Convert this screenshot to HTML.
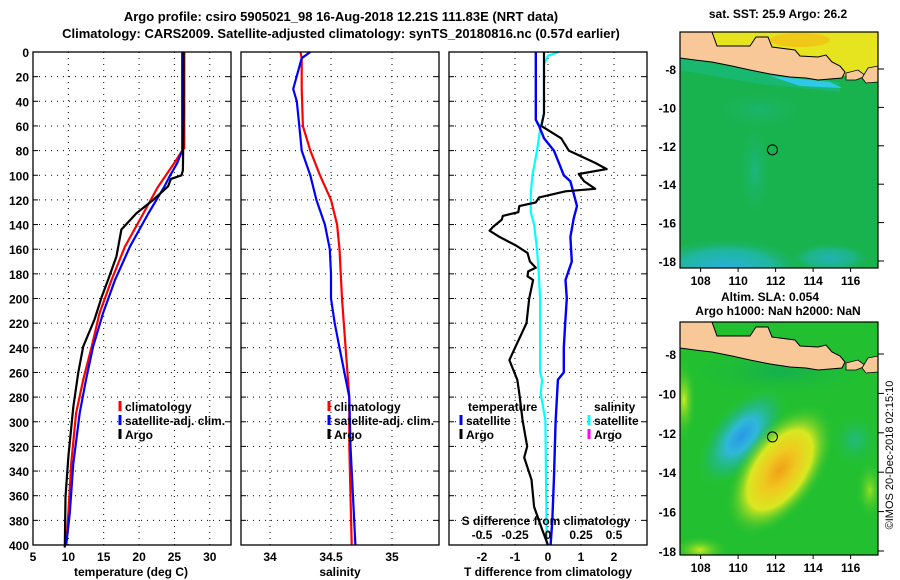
<!DOCTYPE html>
<html><head><meta charset="utf-8">
<style>
html,body{margin:0;padding:0;background:#fff;}
svg{display:block;font-family:"Liberation Sans",Arial,sans-serif;font-weight:bold;}
text{font-size:12px;fill:#000;}
</style></head>
<body>
<svg id="chart" width="900" height="580" viewBox="0 0 900 580" xmlns="http://www.w3.org/2000/svg">
<defs>
<radialGradient id="blueblob">
<stop offset="0" stop-color="#2898e8"/><stop offset="0.35" stop-color="#30b8d8"/><stop offset="0.7" stop-color="#20b888" stop-opacity="0.6"/><stop offset="1" stop-color="#22c040" stop-opacity="0"/></radialGradient>
<radialGradient id="yelblob">
<stop offset="0" stop-color="#f0a018"/><stop offset="0.3" stop-color="#f0c820"/><stop offset="0.6" stop-color="#d8e820"/><stop offset="1" stop-color="#30c030" stop-opacity="0"/></radialGradient>
<radialGradient id="cyanblob">
<stop offset="0" stop-color="#28b0e0"/><stop offset="0.6" stop-color="#22b8c0" stop-opacity="0.7"/><stop offset="1" stop-color="#20b860" stop-opacity="0"/></radialGradient>
<radialGradient id="tealblob">
<stop offset="0" stop-color="#20b8a0"/><stop offset="1" stop-color="#20b860" stop-opacity="0"/></radialGradient>
<radialGradient id="ygblob">
<stop offset="0" stop-color="#c8ec20"/><stop offset="1" stop-color="#30c030" stop-opacity="0"/></radialGradient>
<radialGradient id="dgblob">
<stop offset="0" stop-color="#14b050"/><stop offset="1" stop-color="#22c030" stop-opacity="0"/></radialGradient>
<clipPath id="clipTop"><rect x="680" y="32" width="198" height="236"/></clipPath>
<clipPath id="clipBot"><rect x="680" y="322" width="198" height="233"/></clipPath>
</defs>
<text x="341" y="21" text-anchor="middle" style="font-size:13px">Argo profile: csiro 5905021_98 16-Aug-2018 12.21S 111.83E (NRT data)</text>
<text x="341" y="38" text-anchor="middle" style="font-size:13px">Climatology: CARS2009. Satellite-adjusted climatology: synTS_20180816.nc (0.57d earlier)</text>
<g id="panels"></g>
<g id="maps"></g>
<text transform="translate(893,455) rotate(-90)" text-anchor="middle" style="font-size:11px;font-weight:normal">©IMOS 20-Dec-2018 02:15:10</text>
</svg>
<script>
// ---------- data ----------
const depthTicks=[0,20,40,60,80,100,120,140,160,180,200,220,240,260,280,300,320,340,360,380,400];
const tempTicks=[5,10,15,20,25,30];
const salTicks=[34,34.5,35];
const salTickLabels=["34","34.5","35"];
const tdiffTicks=[-2,-1,0,1,2];
const sdiffTicks=[-0.5,-0.25,0,0.25,0.5];
const sdiffTickLabels=["-0.5","-0.25","0","0.25","0.5"];

const tArgoDepth=[0,50,96,100,103,109,120,131,144,166,185,199,217,239,260,288,328,361,402];
const tArgoVal=[26.3,26.3,26.2,26.0,24.5,24.1,22.0,19.6,17.5,16.8,15.6,14.7,13.7,12.1,11.4,10.7,10.0,9.6,9.5];
const tClimDepth=[0,78,80,90,100,110,131,158,185,212,239,266,293,334,374,400];
const tClimVal=[26.4,26.4,26.1,25.0,23.8,22.6,20.6,18.0,16.1,14.4,13.3,12.1,11.1,10.4,10.0,9.7];
const tSatDepth=[0,78,80,90,100,110,131,158,185,212,239,266,293,334,374,400];
const tSatVal=[26.1,26.1,26.1,25.4,24.4,23.5,21.3,18.7,16.6,14.9,13.5,12.5,11.6,10.7,10.2,9.7];

const sClimDepth=[0,5,30,60,80,100,120,140,160,200,240,280,320,400];
const sClimVal=[34.25,34.26,34.26,34.27,34.33,34.41,34.50,34.55,34.57,34.59,34.62,34.65,34.65,34.67];
const sSatDepth=[0,5,30,40,60,80,100,120,140,160,180,200,220,240,260,280,320,400];
const sSatVal=[34.33,34.26,34.19,34.22,34.24,34.26,34.33,34.38,34.45,34.49,34.50,34.50,34.53,34.57,34.61,34.65,34.66,34.70];

const dTArgoDepth=[0,50,60,70,80,90,95,99,105,111,113,118,122,125,130,133,136,142,145,150,157,163,170,175,178,182,185,200,220,240,250,266,277,299,320,329,347,369,388,398,400];
const dTArgoVal=[-0.12,-0.12,-0.2,0.4,0.63,1.43,1.78,0.93,1.1,1.43,0.53,-0.27,-0.37,-0.87,-0.9,-1.37,-1.4,-1.67,-1.77,-1.47,-0.97,-0.62,-0.55,-0.37,-0.6,-0.62,-0.45,-0.57,-0.65,-1.0,-1.17,-0.93,-0.87,-0.77,-0.63,-0.72,-0.5,-0.42,-0.17,-0.03,0.0];
const dTSatDepth=[0,50,55,60,70,80,90,100,105,115,125,135,150,170,185,200,220,240,260,266,300,347,380,400];
const dTSatVal=[-0.37,-0.37,-0.37,-0.27,-0.12,0.18,0.33,0.48,0.68,0.78,0.88,0.78,0.68,0.72,0.53,0.57,0.52,0.48,0.48,0.3,0.23,0.18,0.13,0.08];
const dSSatDepth=[0,3,10,50,60,80,100,115,130,140,160,180,200,260,266,277,299,347,400];
const dSSatVal=[0.083,0.0,-0.03,-0.03,-0.055,-0.083,-0.118,-0.13,-0.13,-0.105,-0.083,-0.07,-0.06,-0.06,-0.045,-0.055,-0.02,-0.015,-0.01];

const lonTicks=[108,110,112,114,116];
const latTicks=[-8,-10,-12,-14,-16,-18];

// ---------- axis functions ----------
const Y0=52,Y1=545;
const dy=d=>Y0+d*(Y1-Y0)/400;
const p1x=t=>33+(t-5)*198/28;
const p2x=s=>270+(s-34)*122;
const p3x=t=>449+(t+3)*33;
const p3s=s=>p3x(s*4);
const NS="http://www.w3.org/2000/svg";
const G=document.getElementById('panels');
function mk(tag,attrs,parent){const e=document.createElementNS(NS,tag);for(const k in attrs)e.setAttribute(k,attrs[k]);(parent||G).appendChild(e);return e;}
function txt(x,y,s,anchor,parent,size){const e=mk('text',{x:x,y:y,'text-anchor':anchor||'middle'},parent);if(size)e.style.fontSize=size;e.textContent=s;return e;}
function poly(xs,ds,fx,color,w,name,parent){
  const pts=xs.map((v,i)=>fx(v).toFixed(1)+','+dy(ds[i]).toFixed(1)).join(' ');
  const e=mk('polyline',{points:pts,fill:'none',stroke:color,'stroke-width':w,'stroke-linejoin':'round'},parent);
  
  
  return e;
}
function panel(name){
  const g=mk('g',{});
  
  
  return g;
}
function frame(x0,g){
  const r=mk('rect',{x:x0,y:Y0,width:198,height:Y1-Y0,fill:'none',stroke:'#000','stroke-width':1.3},g);
  
  
}
function hgrid(x0,g){
  depthTicks.forEach(d=>{
    if(d===0||d===400)return;
    const l=mk('line',{x1:x0,x2:x0+198,y1:dy(d),y2:dy(d),stroke:'#000','stroke-width':1,'stroke-dasharray':'1,5'},g);
    
    
    mk('line',{x1:x0,x2:x0+5,y1:dy(d),y2:dy(d),stroke:'#000'},g);
    mk('line',{x1:x0+193,x2:x0+198,y1:dy(d),y2:dy(d),stroke:'#000'},g);
  });
}
function vgrid(xs,fx,g){
  xs.forEach(v=>{
    const l=mk('line',{x1:fx(v),x2:fx(v),y1:Y0,y2:Y1,stroke:'#000','stroke-width':1,'stroke-dasharray':'1,5'},g);
    
    
  });
}
function legendItem(g,mx,y,color,label,name){
  const m=mk('line',{x1:mx,x2:mx,y1:y-10,y2:y,stroke:color,'stroke-width':3},g);
  
  
  const t=txt(mx+5,y,label,'start',g);
  
  
}

// depth labels
depthTicks.forEach(d=>{const t=txt(29,dy(d)+5,String(d),'end');
  
  });

// Panel 1 temperature
let g1=panel('temperature-panel');
vgrid(tempTicks.filter(v=>v>5),p1x,g1);hgrid(33,g1);
tempTicks.forEach(v=>{const t=txt(p1x(v),561,String(v),'middle',g1);
  
  });
poly(tClimVal,tClimDepth,p1x,'#f00',2.2,'temperature-climatology-line',g1);
poly(tSatVal,tSatDepth,p1x,'#00f',2.2,'temperature-satellite-line',g1);
poly(tArgoVal,tArgoDepth,p1x,'#000',2.2,'temperature-argo-line',g1);
frame(33,g1);
legendItem(g1,120,411,'#f00','climatology','legend-climatology');
legendItem(g1,120,425,'#00f','satellite-adj. clim.','legend-satellite');
legendItem(g1,120,439,'#000','Argo','legend-argo');
let xl=txt(131,576,'temperature (deg C)','middle',g1);



// Panel 2 salinity
let g2=panel('salinity-panel');
vgrid(salTicks,p2x,g2);hgrid(241,g2);
salTicks.forEach((v,i)=>{const t=txt(p2x(v),561,salTickLabels[i],'middle',g2);
  
  });
poly(sClimVal,sClimDepth,p2x,'#f00',2.2,'salinity-climatology-line',g2);
poly(sSatVal,sSatDepth,p2x,'#00f',2.2,'salinity-satellite-line',g2);
frame(241,g2);
legendItem(g2,329,411,'#f00','climatology','legend2-climatology');
legendItem(g2,329,425,'#00f','satellite-adj. clim.','legend2-satellite');
legendItem(g2,329,439,'#000','Argo','legend2-argo');
xl=txt(340,576,'salinity','middle',g2);



// Panel 3 differences
let g3=panel('difference-panel');
vgrid(tdiffTicks,p3x,g3);hgrid(449,g3);
tdiffTicks.forEach(v=>{const t=txt(p3x(v),561,String(v),'middle',g3);
  
  });
poly(dSSatVal,dSSatDepth,p3s,'#0ff',2.2,'sdiff-satellite-line',g3);
poly(dTSatVal,dTSatDepth,p3x,'#00f',2.4,'tdiff-satellite-line',g3);
poly(dTArgoVal,dTArgoDepth,p3x,'#000',2.2,'tdiff-argo-line',g3);
frame(449,g3);
let t3=txt(468,411,'temperature','start',g3);
legendItem(g3,461,425,'#00f','satellite','legend3-t-satellite');
legendItem(g3,461,439,'#000','Argo','legend3-t-argo');
t3=txt(594,411,'salinity','start',g3);
legendItem(g3,589,425,'#0ff','satellite','legend3-s-satellite');
legendItem(g3,589,439,'#f0f','Argo','legend3-s-argo');
t3=txt(546,525,'S difference from climatology','middle',g3);
sdiffTicks.forEach((v,i)=>{const t=txt(p3s(v),539,sdiffTickLabels[i],'middle',g3);
  
  });
xl=txt(548,576,'T difference from climatology','middle',g3);



// ---------- maps ----------
const M=document.getElementById('maps');
const mlon=l=>680+(l-106.9)*18.75;
function landPts(off){
  const p=[[680,32],[712,32],[717,46],[750,46],[756,37],[768,37],[772,47],[795,50],[800,56],[818,57],[826,55],[832,62],[840,66],[845,72],[842,78],[830,79],[818,80],[806,78],[790,77],[770,74],[750,70],[732,66],[712,62],[695,60],[680,58]];
  return p.map(q=>q[0]+','+(q[1]+off)).join(' ');
}
function islands(g,off){
  mk('polygon',{points:`846,${73+off} 858,${70+off} 866,${76+off} 856,${80+off} 846,${80+off}`,fill:'#f8c898',stroke:'#000','stroke-width':0.8},g);
  mk('polygon',{points:`862,${78+off} 868,${68+off} 878,${66+off} 878,${82+off} 866,${83+off}`,fill:'#f8c898',stroke:'#000','stroke-width':0.8},g);
}
function map(y0,h,top,off,name,latFn){
  const g=mk('g',{'clip-path':top?'url(#clipTop)':'url(#clipBot)'},M);
  
  
  if(top){
    mk('rect',{x:680,y:y0,width:198,height:h,fill:'#18b24e'},g);
    mk('polygon',{points:'680,32 878,32 878,80 840,75 680,45',fill:'#e6e41e'},g);
    mk('ellipse',{cx:800,cy:40,rx:30,ry:7,fill:'#f0c818'},g);
    mk('polygon',{points:'680,58 760,72 812,78 840,82 840,92 760,84 680,70',fill:'#18b870'},g);
    mk('polygon',{points:'770,76 830,82 842,88 800,86',fill:'#30c8e8'},g);
    mk('ellipse',{cx:725,cy:268,rx:80,ry:30,fill:'url(#cyanblob)'},g);
    mk('ellipse',{cx:830,cy:258,rx:40,ry:15,fill:'url(#cyanblob)',opacity:0.7},g);
    mk('ellipse',{cx:755,cy:170,rx:16,ry:50,fill:'url(#tealblob)',opacity:0.6},g);
    mk('ellipse',{cx:760,cy:110,rx:50,ry:20,fill:'url(#tealblob)',opacity:0.4},g);
  } else {
    mk('rect',{x:680,y:y0,width:198,height:h,fill:'#22c030'},g);
    mk('ellipse',{cx:780,cy:372,rx:110,ry:28,fill:'url(#dgblob)'},g);
    mk('ellipse',{cx:0,cy:0,rx:60,ry:30,fill:'url(#blueblob)',transform:'translate(742,436) rotate(-50)'},g);
    mk('ellipse',{cx:0,cy:0,rx:75,ry:40,fill:'url(#yelblob)',transform:'translate(780,470) rotate(-55)'},g);
    mk('ellipse',{cx:855,cy:440,rx:22,ry:25,fill:'url(#tealblob)',opacity:0.7},g);
    mk('ellipse',{cx:684,cy:400,rx:12,ry:40,fill:'url(#ygblob)'},g);
    mk('ellipse',{cx:700,cy:550,rx:28,ry:14,fill:'url(#ygblob)'},g);
    mk('ellipse',{cx:870,cy:490,rx:14,ry:30,fill:'url(#ygblob)',opacity:0.7},g);
  }
  const land=mk('polygon',{points:landPts(off),fill:'#f8c898',stroke:'#000','stroke-width':1},g);
  
  
  islands(g,off);
  const c=mk('circle',{cx:mlon(111.83),cy:latFn(-12.21),r:5,fill:'none',stroke:'#000','stroke-width':1},g);
  
  
  const fr=mk('rect',{x:680,y:y0,width:198,height:h,fill:'none',stroke:'#000','stroke-width':1.2},M);
  
  
  latTicks.forEach(l=>{const y=latFn(l);
    const t=txt(676,y+5,String(l),'end',M);
    
    
    mk('line',{x1:878,x2:884,y1:y,y2:y,stroke:'#000'},M);});
  lonTicks.forEach(l=>{const x=mlon(l);
    const t=txt(x,y0+h+17,String(l),'middle',M);
    
    
    mk('line',{x1:x,x2:x,y1:y0+h,y2:y0+h+4,stroke:'#000'},M);});
}
map(32,236,true,0,'sst-map',l=>69+(-8-l)*19.2);
map(322,233,false,290,'sla-map',l=>354+(-8-l)*19.7);
let mt=txt(778,18,'sat. SST: 25.9 Argo: 26.2','middle',M);

mt=txt(770,301,'Altim. SLA: 0.054','middle',M);

mt=txt(778,315,'Argo h1000: NaN h2000: NaN','middle',M);

</script>
</body></html>
